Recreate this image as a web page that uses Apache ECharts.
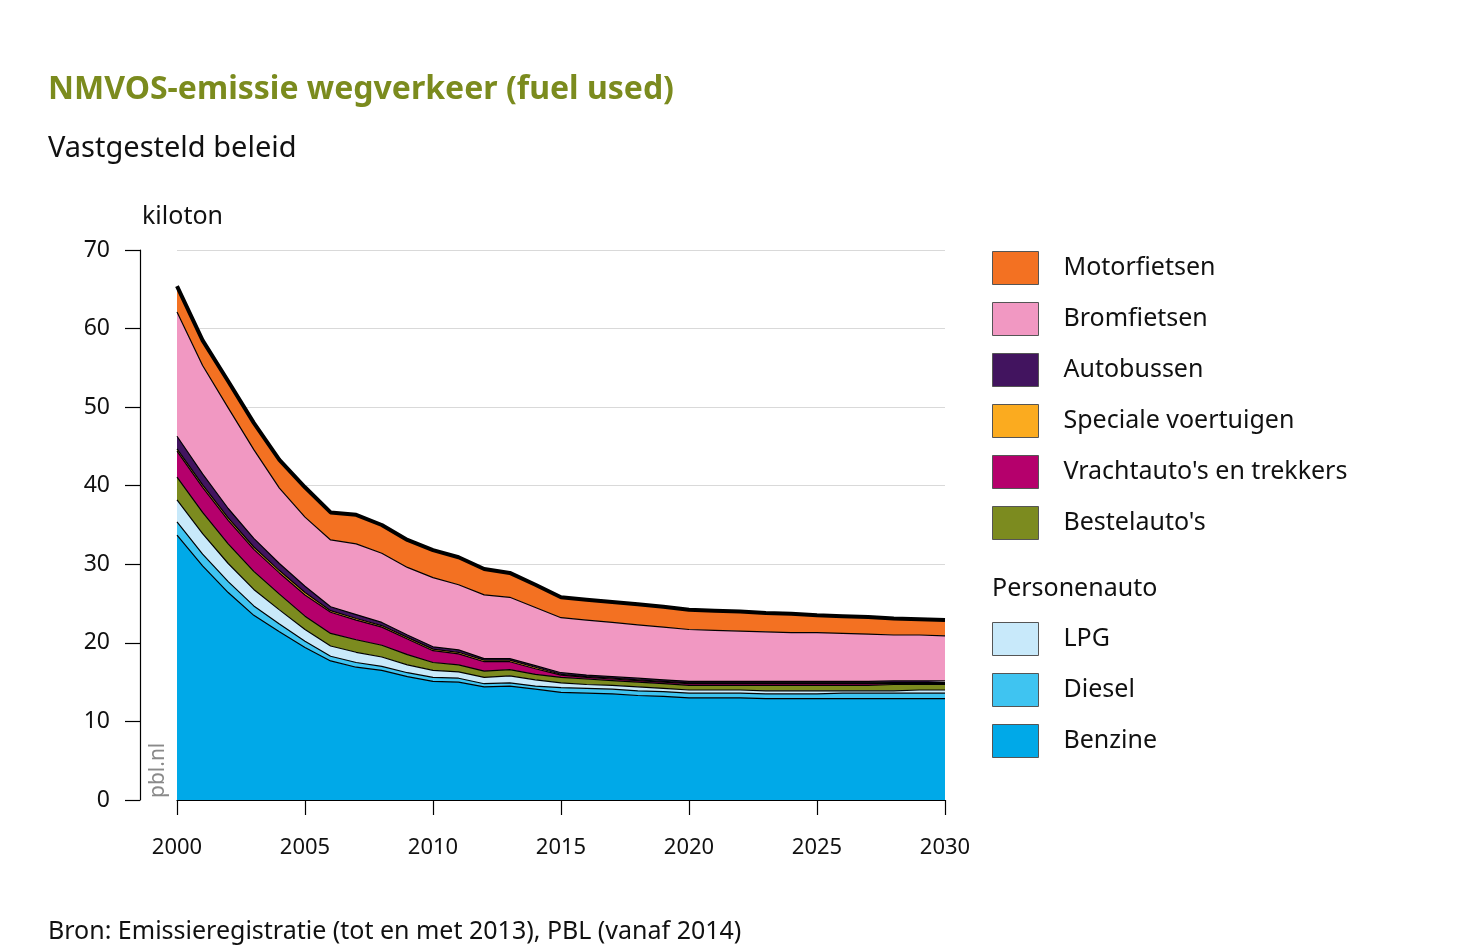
<!DOCTYPE html>
<html>
<head>
<meta charset="utf-8">
<script src="https://cdn.jsdelivr.net/npm/echarts@6/dist/echarts.min.js"></script>
<style>
html,body{margin:0;padding:0;background:#fff;}
#chart{width:1465px;height:950px;}
</style>
</head>
<body>
<div id="chart"></div>
<script>
const years = ['2000','2001','2002','2003','2004','2005','2006','2007','2008','2009','2010','2011','2012','2013','2014','2015','2016','2017','2018','2019','2020','2021','2022','2023','2024','2025','2026','2027','2028','2029','2030'];
const benzine   = [33.7,29.8,26.4,23.5,21.4,19.4,17.7,16.9,16.5,15.7,15.1,15.0,14.4,14.5,14.1,13.7,13.6,13.5,13.3,13.2,13.0,13.0,13.0,12.9,12.9,12.9,12.9,12.9,12.9,12.9,12.9];
const diesel    = [1.7,1.5,1.4,1.2,1.0,0.8,0.6,0.6,0.5,0.5,0.5,0.5,0.4,0.4,0.4,0.6,0.6,0.6,0.6,0.6,0.6,0.6,0.6,0.6,0.6,0.6,0.7,0.7,0.7,0.7,0.7];
const lpg       = [2.8,2.6,2.3,2.1,1.8,1.5,1.3,1.3,1.2,1.0,0.9,0.8,0.8,0.9,0.8,0.6,0.5,0.5,0.5,0.4,0.4,0.4,0.4,0.4,0.4,0.4,0.3,0.3,0.3,0.4,0.4];
const bestel    = [2.9,2.7,2.5,2.3,2.0,1.7,1.6,1.6,1.5,1.3,1.0,0.9,0.8,0.8,0.7,0.7,0.7,0.6,0.6,0.6,0.6,0.6,0.6,0.7,0.7,0.7,0.7,0.7,0.8,0.7,0.7];
const vracht    = [3.3,3.2,3.0,2.8,2.7,2.7,2.7,2.5,2.3,2.0,1.5,1.4,1.2,1.0,0.7,0.3,0.2,0.2,0.2,0.2,0.2,0.2,0.2,0.2,0.2,0.2,0.2,0.2,0.15,0.15,0.15];
const speciale  = [0.3,0.3,0.3,0.3,0.3,0.3,0.2,0.2,0.2,0.2,0.2,0.2,0.2,0.2,0.2,0.1,0.1,0.1,0.1,0.1,0.1,0.1,0.1,0.1,0.1,0.1,0.1,0.1,0.1,0.1,0.1];
const autobus   = [1.6,1.4,1.2,1.1,0.9,0.8,0.5,0.5,0.4,0.3,0.3,0.3,0.2,0.2,0.2,0.2,0.2,0.2,0.2,0.2,0.2,0.2,0.2,0.2,0.2,0.2,0.2,0.2,0.2,0.2,0.2];
const brom      = [15.8,13.8,12.8,11.3,9.6,8.8,8.5,9.0,8.8,8.6,8.8,8.3,8.1,7.8,7.4,7.0,7.0,6.9,6.8,6.7,6.6,6.5,6.4,6.3,6.2,6.2,6.1,6.0,5.85,5.85,5.75];
const motor     = [3.3,3.2,3.4,3.4,3.6,3.8,3.5,3.7,3.6,3.5,3.5,3.5,3.3,3.1,2.9,2.6,2.6,2.6,2.6,2.6,2.5,2.5,2.5,2.4,2.4,2.2,2.2,2.2,2.1,2.0,2.0];
const xTickLabels = ['2000','2005','2010','2015','2020','2025','2030'];

const seriesDefs = [
  {name:'Benzine', data:benzine, color:'#00a9e8'},
  {name:'Diesel', data:diesel, color:'#3fc4f1'},
  {name:'LPG', data:lpg, color:'#c8e9fa'},
  {name:"Bestelauto's", data:bestel, color:'#7c8b1f'},
  {name:"Vrachtauto's en trekkers", data:vracht, color:'#b5006c'},
  {name:'Speciale voertuigen', data:speciale, color:'#fbab1f'},
  {name:'Autobussen', data:autobus, color:'#42145f'},
  {name:'Bromfietsen', data:brom, color:'#f198c2'},
  {name:'Motorfietsen', data:motor, color:'#f37122'}
];

const FONT = 'Noto Sans';
const chart = echarts.init(document.getElementById('chart'), null, {renderer:'canvas'});
const series = seriesDefs.map((s, i) => ({
  name: s.name,
  type: 'line',
  stack: 'total',
  symbol: 'none',
  z: 20 - i,
  data: s.data,
  itemStyle: {color: s.color},
  lineStyle: {color: '#000', width: i === seriesDefs.length - 1 ? 4 : 1.2},
  areaStyle: {color: s.color, opacity: 1},
  emphasis: {disabled: true}
}));

const legendCommon = {
  orient: 'vertical',
  left: 987,
  icon: 'rect',
  itemWidth: 46,
  itemHeight: 33,
  itemGap: 17,
  selectedMode: false,
  itemStyle: {borderColor: '#555', borderWidth: 1},
  textStyle: {fontFamily: FONT, fontSize: 25, color: '#111', padding: [0,0,0,20], lineHeight: 33}
};

chart.setOption({
  animation: false,
  backgroundColor: '#fff',
  grid: {left: 177, right: 520, top: 250, bottom: 150, containLabel: false},
  xAxis: {
    type: 'category', data: years, boundaryGap: false,
    axisLine: {show: true, lineStyle: {color: '#000', width: 1.2}},
    axisTick: {show: true, length: 15, interval: (i, v) => xTickLabels.includes(v), lineStyle: {color: '#000', width: 1.2}},
    axisLabel: {fontFamily: FONT, fontSize: 22, color: '#111', margin: 37, interval: (i, v) => xTickLabels.includes(v)},
    splitLine: {show: false}
  },
  yAxis: {
    type: 'value', min: 0, max: 70, interval: 10, offset: 37,
    axisLine: {show: true, lineStyle: {color: '#000', width: 1.2}},
    axisTick: {show: true, length: 15, lineStyle: {color: '#000', width: 1.2}},
    axisLabel: {fontFamily: FONT, fontSize: 23, color: '#111', margin: 30},
    splitLine: {show: true, lineStyle: {color: '#d9d9d9', width: 1}}
  },
  legend: [
    Object.assign({}, legendCommon, {top: 246, data: ['Motorfietsen','Bromfietsen','Autobussen','Speciale voertuigen',"Vrachtauto's en trekkers","Bestelauto's"]}),
    Object.assign({}, legendCommon, {top: 617, data: ['LPG','Diesel','Benzine']})
  ],
  graphic: [
    {type:'text', left: 48, top: 74, style:{text:'NMVOS-emissie wegverkeer (fuel used)', font:'bold 32px "Noto Sans"', fill:'#7b8b1e'}},
    {type:'text', left: 48, top: 134, style:{text:'Vastgesteld beleid', font:'29px "Noto Sans"', fill:'#111'}},
    {type:'text', left: 142, top: 204, style:{text:'kiloton', font:'25px "Noto Sans"', fill:'#111'}},
    {type:'text', left: 992, top: 576, style:{text:'Personenauto', font:'25px "Noto Sans"', fill:'#111'}},
    {type:'text', left: 48, top: 919, style:{text:'Bron: Emissieregistratie (tot en met 2013), PBL (vanaf 2014)', font:'25px "Noto Sans"', fill:'#111'}},
    {type:'text', x: 148, y: 798, rotation: Math.PI/2, z: 100, style:{text:'pbl.nl', font:'21px "Noto Sans"', fill:'#8a8a8a', textAlign:'left', textVerticalAlign:'top'}}
  ],
  series: series
});
</script>
</body>
</html>
